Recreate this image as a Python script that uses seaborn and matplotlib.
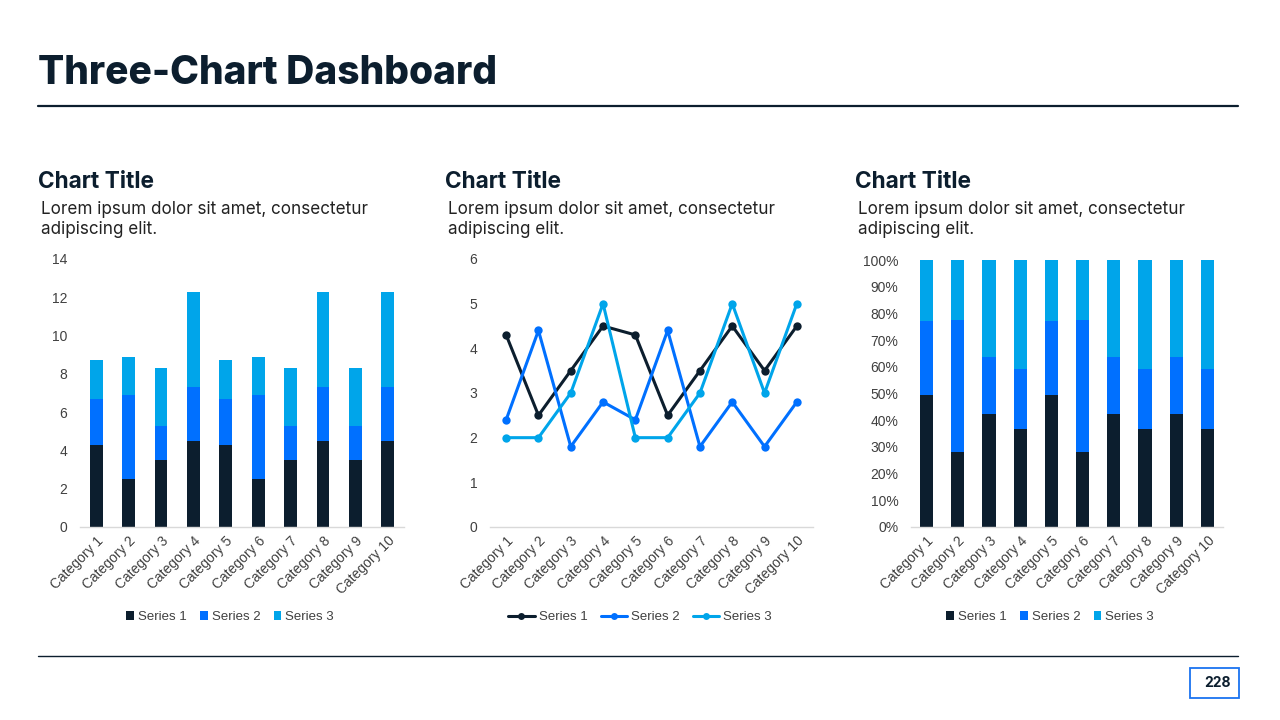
import matplotlib
matplotlib.use("Agg")
import matplotlib.pyplot as plt
import seaborn as sns
import pandas as pd
import numpy as np
from matplotlib.ticker import PercentFormatter, MultipleLocator
from matplotlib.lines import Line2D
from matplotlib.patches import Patch, Rectangle

categories = [f"Category {i}" for i in range(1, 11)]
series_names = ["Series 1", "Series 2", "Series 3"]
series1 = [4.3, 2.5, 3.5, 4.5, 4.3, 2.5, 3.5, 4.5, 3.5, 4.5]
series2 = [2.4, 4.4, 1.8, 2.8, 2.4, 4.4, 1.8, 2.8, 1.8, 2.8]
series3 = [2.0, 2.0, 3.0, 5.0, 2.0, 2.0, 3.0, 5.0, 3.0, 5.0]
chart_title = "Chart Title"
chart_desc = "Lorem ipsum dolor sit amet, consectetur\nadipiscing elit."
page_title = "Three-Chart Dashboard"
page_number = "228"

colors = ["#0C1E2E", "#0070FF", "#00A5EA"]
NAVY = "#0C1E2E"

sns.set_theme(style="white")
plt.rcParams["font.family"] = ["Liberation Sans", "DejaVu Sans"]

W, H = 1280, 720
fig = plt.figure(figsize=(12.8, 7.2), dpi=100)

def fx(x):
    return x / W

def fy(y):
    return 1 - y / H

def add_ax(x0, x1, ytop, ybot):
    return fig.add_axes([fx(x0), fy(ybot), fx(x1 - x0), (ybot - ytop) / H])

df = pd.DataFrame({"category": categories, "Series 1": series1,
                   "Series 2": series2, "Series 3": series3})

def style_axis(ax):
    for s in ["top", "right", "left"]:
        ax.spines[s].set_visible(False)
    ax.spines["bottom"].set_color("#D9D9D9")
    ax.spines["bottom"].set_linewidth(1)
    ax.tick_params(axis="both", length=0, labelsize=10, colors="#404040")
    ax.tick_params(axis="y", pad=9)
    ax.tick_params(axis="x", pad=5)
    ax.set_xlabel("")
    ax.set_ylabel("")
    ax.grid(False)
    for lab in ax.get_xticklabels():
        lab.set_rotation(45)
        lab.set_ha("right")
        lab.set_rotation_mode("anchor")

# ---- Chart 1: stacked bars ----
ax1 = add_ax(80, 404, 259, 527)
bottom = np.zeros(len(categories))
for name, col in zip(series_names, colors):
    sns.barplot(data=df, x="category", y=name, color=col, width=0.4,
                bottom=bottom, ax=ax1, saturation=1, edgecolor="none")
    bottom = bottom + df[name].values
ax1.set_ylim(0, 14)
ax1.yaxis.set_major_locator(MultipleLocator(2))
ax1.set_xlim(-0.5, 9.5)
style_axis(ax1)

# ---- Chart 2: lines ----
ax2 = add_ax(490, 813, 259, 527)
long = df.melt(id_vars="category", value_vars=series_names,
               var_name="series", value_name="value")
sns.lineplot(data=long, x="category", y="value", hue="series",
             palette=colors, marker="o", markersize=6, markeredgewidth=0,
             linewidth=2.2, sort=False, ax=ax2, legend=False)
ax2.set_ylim(0, 6)
ax2.yaxis.set_major_locator(MultipleLocator(1))
ax2.set_xlim(-0.5, 9.5)
style_axis(ax2)

# ---- Chart 3: 100% stacked bars ----
ax3 = add_ax(911, 1223, 260, 527)
totals = df[series_names].sum(axis=1).values
pct = df.copy()
for name in series_names:
    pct[name] = df[name].values / totals * 100
bottom = np.zeros(len(categories))
for name, col in zip(series_names, colors):
    sns.barplot(data=pct, x="category", y=name, color=col, width=0.42,
                bottom=bottom, ax=ax3, saturation=1, edgecolor="none")
    bottom = bottom + pct[name].values
ax3.set_ylim(0, 100)
ax3.yaxis.set_major_locator(MultipleLocator(10))
ax3.yaxis.set_major_formatter(PercentFormatter(decimals=0))
ax3.set_xlim(-0.5, 9.5)
style_axis(ax3)

# ---- Legends ----
bar_handles = [Patch(facecolor=c, edgecolor="none") for c in colors]
line_handles = [Line2D([0], [0], color=c, lw=2.2, marker="o", markersize=5,
                       markeredgewidth=0) for c in colors]
for cx, handles, hl in [(230, bar_handles, 0.6), (640, line_handles, 2.0),
                        (1050, bar_handles, 0.6)]:
    fig.legend(handles, series_names, loc="center", bbox_to_anchor=(fx(cx), fy(617)),
               ncol=3, frameon=False, fontsize=9.5, handlelength=hl, handleheight=0.6,
               handletextpad=0.3, columnspacing=1.0, labelcolor="#404040")

# ---- Text & decorations ----
title_font = ["Inter", "DejaVu Sans"]
fig.text(fx(38), fy(74), page_title, fontsize=28, fontweight=800,
         color=NAVY, family=title_font, va="center", ha="left")
fig.add_artist(Line2D([fx(38), fx(1238)], [fy(106), fy(106)], color=NAVY, lw=1.6))
fig.add_artist(Line2D([fx(38), fx(1238)], [fy(656), fy(656)], color=NAVY, lw=1.0))

for x_title, x_desc in [(38, 41), (445, 448), (855, 858)]:
    fig.text(fx(x_title), fy(182), chart_title, fontsize=16.3, fontweight=700,
             color=NAVY, family=title_font, va="center", ha="left")
    fig.text(fx(x_desc), fy(201), chart_desc, fontsize=12.3, color="#222222",
             family=["Inter", "DejaVu Sans"], va="top", ha="left", linespacing=1.25)

fig.add_artist(Rectangle((fx(1190), fy(698)), fx(49), (698 - 668) / H,
                         transform=fig.transFigure, fill=False,
                         edgecolor="#1A73F0", lw=1.3))
fig.text(fx(1231), fy(683), page_number, fontsize=10, fontweight="bold",
         color=NAVY, family=title_font, va="center", ha="right")

fig.savefig("out.png", dpi=100)
